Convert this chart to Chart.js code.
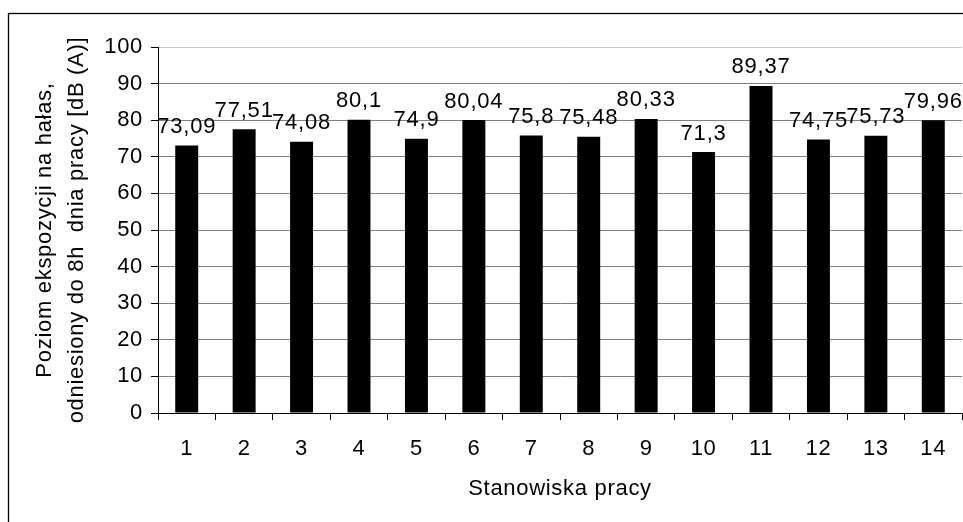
<!DOCTYPE html>
<html>
<head>
<meta charset="utf-8">
<script src="https://cdn.jsdelivr.net/npm/chart.js@4/dist/chart.umd.min.js"></script>
<style>
  html, body { margin: 0; padding: 0; background: #fff; }
  canvas { display: block; }
</style>
</head>
<body>
<canvas id="c" width="963" height="522"></canvas>
<script>
const categories = ['1','2','3','4','5','6','7','8','9','10','11','12','13','14'];
const noiseLevels = [73.09, 77.51, 74.08, 80.1, 74.9, 80.04, 75.8, 75.48, 80.33, 71.3, 89.37, 74.75, 75.73, 79.96];
const yTicks = [0, 10, 20, 30, 40, 50, 60, 70, 80, 90, 100];
const xTitle = 'Stanowiska pracy';
const yTitle = ['Poziom ekspozycji na hałas,', 'odniesiony do 8h  dnia pracy [dB (A)]'];

const FONT = "'Liberation Sans', Arial, sans-serif";

const framePlugin = {
  id: 'frame',
  beforeDraw(chart) {
    const ctx = chart.ctx;
    ctx.save();
    ctx.fillStyle = '#fff';
    ctx.fillRect(0, 0, chart.width, chart.height);
    ctx.strokeStyle = '#000';
    ctx.lineWidth = 1.3;
    ctx.strokeRect(8.5, 13.5, 3000, 3000);
    ctx.restore();
    ctx.letterSpacing = '0.7px';
  }
};

const valueLabels = {
  id: 'valueLabels',
  afterDatasetsDraw(chart) {
    const ctx = chart.ctx;
    const meta = chart.getDatasetMeta(0);
    ctx.save();
    ctx.letterSpacing = '0.8px';
    ctx.font = '22px ' + FONT;
    ctx.fillStyle = '#000';
    ctx.textAlign = 'center';
    ctx.textBaseline = 'alphabetic';
    meta.data.forEach((bar, i) => {
      const txt = String(noiseLevels[i]).replace('.', ',');
      ctx.fillText(txt, bar.x, bar.y - 12.5);
    });
    ctx.restore();
  }
};

new Chart(document.getElementById('c'), {
  type: 'bar',
  data: {
    labels: categories,
    datasets: [{
      data: noiseLevels,
      backgroundColor: '#000',
      borderWidth: 0,
      barPercentage: 0.4,
      categoryPercentage: 1.0
    }]
  },
  options: {
    responsive: false,
    animation: false,
    events: [],
    layout: { padding: { left: 0, top: 47, right: 1, bottom: 0 } },
    plugins: {
      legend: { display: false },
      tooltip: { enabled: false },
      title: { display: false }
    },
    scales: {
      x: {
        offset: true,
        grid: {
          offset: true,
          drawOnChartArea: false,
          drawTicks: true,
          tickLength: 7,
          tickColor: '#000',
          tickWidth: 1
        },
        border: { display: true, color: '#000', width: 1 },
        ticks: {
          color: '#000',
          font: { family: FONT, size: 22 },
          padding: 16,
          maxRotation: 0,
          autoSkip: false
        },
        title: {
          display: true,
          text: xTitle,
          color: '#000',
          font: { family: FONT, size: 22 },
          padding: { top: 0, bottom: 20 }
        },
        afterFit(scale) { scale.height = 109; }
      },
      y: {
        min: 0,
        max: 100,
        afterBuildTicks(scale) { scale.ticks = yTicks.map(v => ({ value: v })); },
        grid: {
          color: (c) => (c.tick && c.tick.value === 100) ? '#c8c8c8' : '#808080',
          lineWidth: 1,
          drawTicks: true,
          tickLength: 7,
          tickColor: '#000'
        },
        border: { display: true, color: '#000', width: 1 },
        ticks: {
          color: '#000',
          font: { family: FONT, size: 22 },
          padding: 8
        },
        title: {
          display: true,
          text: yTitle,
          color: '#000',
          font: { family: FONT, size: 22, lineHeight: 1.45 },
          padding: { top: 29, bottom: 0 }
        },
        afterFit(scale) { scale.width = 158; }
      }
    }
  },
  plugins: [framePlugin, valueLabels]
});
</script>
</body>
</html>
